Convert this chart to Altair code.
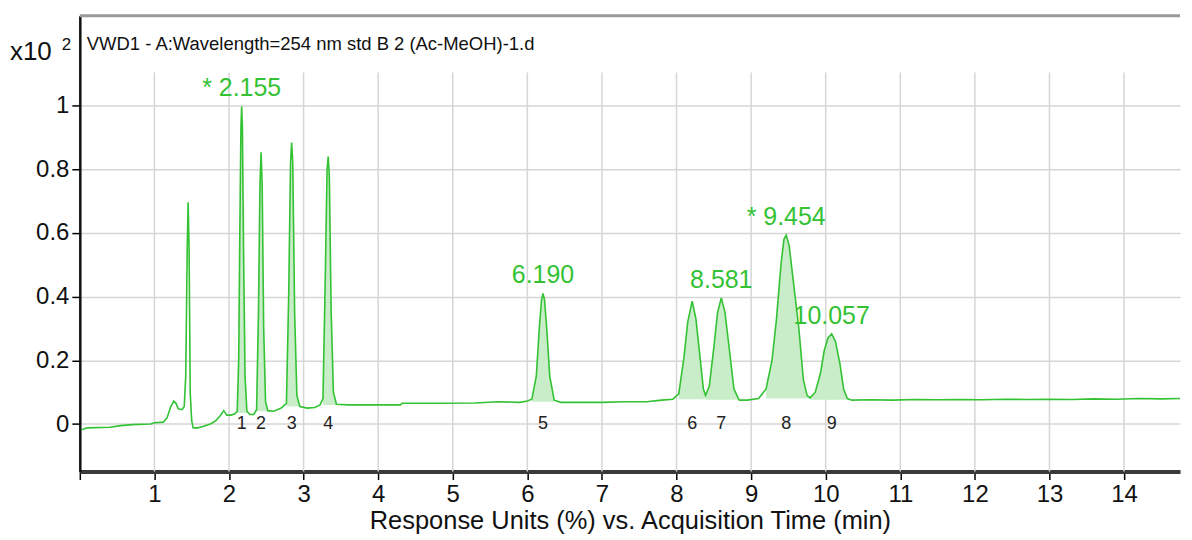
import altair as alt
import pandas as pd

# ---------------- data ----------------
time_min = [
    0.02, 0.10, 0.40, 0.55, 0.70, 0.95, 1.00, 1.12, 1.17, 1.22, 1.26, 1.29, 1.32, 1.37, 1.40,
    1.42, 1.44, 1.452, 1.465, 1.48, 1.50, 1.52, 1.58, 1.65, 1.75, 1.82, 1.88, 1.93, 1.97, 2.03, 2.08,
    2.11, 2.13, 2.145, 2.16, 2.17, 2.18, 2.195, 2.215, 2.24, 2.28, 2.33,
    2.37, 2.395, 2.415, 2.43, 2.445, 2.465, 2.49, 2.52, 2.60, 2.70,
    2.77, 2.80, 2.825, 2.84, 2.855, 2.88, 2.91, 2.95, 3.05, 3.15, 3.22,
    3.26, 3.29, 3.315, 3.33, 3.345, 3.37, 3.40, 3.44, 3.60, 4.00, 4.30, 4.32, 4.80, 5.30, 5.60, 5.90, 6.00,
    6.06, 6.12, 6.16, 6.19, 6.21, 6.23, 6.26, 6.30, 6.36, 6.45, 6.70, 7.00, 7.30, 7.60, 7.80, 7.95,
    8.03, 8.10, 8.15, 8.21, 8.26, 8.31, 8.36, 8.39,
    8.44, 8.50, 8.55, 8.60, 8.65, 8.71, 8.77, 8.84, 8.95, 9.10, 9.20,
    9.28, 9.34, 9.40, 9.44, 9.47, 9.51, 9.57, 9.64, 9.70, 9.75, 9.79,
    9.86, 9.93, 9.98, 10.03, 10.08, 10.13, 10.19, 10.24, 10.29, 10.35,
    10.60, 10.90, 11.20, 11.50, 11.80, 12.10, 12.40, 12.70, 13.00, 13.30, 13.60, 13.90, 14.20, 14.50, 14.75,
]
response = [
    -0.018, -0.012, -0.010, -0.005, -0.002, 0.000, 0.004, 0.006, 0.020, 0.055, 0.072, 0.065, 0.048, 0.045, 0.055,
    0.15, 0.55, 0.696, 0.55, 0.10, 0.01, -0.012, -0.012, -0.008, 0.000, 0.010, 0.025, 0.042, 0.028, 0.028, 0.032,
    0.040, 0.20, 0.60, 0.93, 0.997, 0.93, 0.55, 0.15, 0.040, 0.030, 0.030,
    0.045, 0.35, 0.75, 0.853, 0.75, 0.30, 0.07, 0.042, 0.040, 0.050,
    0.065, 0.40, 0.82, 0.884, 0.82, 0.35, 0.09, 0.055, 0.050, 0.052, 0.060,
    0.08, 0.45, 0.80, 0.84, 0.78, 0.35, 0.10, 0.062, 0.060, 0.060, 0.060, 0.065, 0.065, 0.066, 0.070, 0.068, 0.072,
    0.078, 0.15, 0.30, 0.39, 0.41, 0.39, 0.30, 0.15, 0.075, 0.068, 0.068, 0.068, 0.070, 0.070, 0.075, 0.078,
    0.095, 0.21, 0.32, 0.386, 0.33, 0.22, 0.11, 0.090,
    0.12, 0.24, 0.35, 0.396, 0.35, 0.23, 0.11, 0.075, 0.075, 0.080, 0.11,
    0.20, 0.33, 0.50, 0.58, 0.593, 0.56, 0.44, 0.30, 0.14, 0.090, 0.082,
    0.10, 0.16, 0.23, 0.27, 0.283, 0.26, 0.19, 0.11, 0.080, 0.075,
    0.076, 0.075, 0.077, 0.076, 0.077, 0.076, 0.078, 0.077, 0.078, 0.077, 0.079, 0.078, 0.080, 0.079, 0.080,
]

peak_number = ["1", "2", "3", "4", "5", "6", "7", "8", "9"]
peak_rt = [2.17, 2.43, 2.84, 3.33, 6.21, 8.21, 8.60, 9.47, 10.08]
peak_start = [2.11, 2.37, 2.77, 3.26, 6.06, 8.00, 8.39, 9.15, 9.79]
peak_end = [2.24, 2.52, 2.95, 3.44, 6.36, 8.39, 8.84, 9.79, 10.29]
peak_base = [0.035, 0.040, 0.055, 0.060, 0.070, 0.078, 0.076, 0.080, 0.076]

rt_text = ["* 2.155", "6.190", "8.581", "* 9.454", "10.057"]
rt_x = [2.17, 6.21, 8.60, 9.47, 10.08]
rt_y = [0.997, 0.41, 0.396, 0.593, 0.283]

x_ticks = list(range(0, 15))
y_ticks = [0, 0.2, 0.4, 0.6, 0.8, 1.0]

title_text = "VWD1 - A:Wavelength=254 nm std B 2 (Ac-MeOH)-1.d"
x_title = "Response Units (%) vs. Acquisition Time (min)"

# ---------------- styling ----------------
W, H = 1103, 457
FONT = "Liberation Sans"
GREEN = "#33c233"
FILL = "#c9edc9"

trace = pd.DataFrame({"t": time_min, "v": response})
rows = []
for num, s, e, b in zip(peak_number, peak_start, peak_end, peak_base):
    seg = trace[(trace.t >= s) & (trace.t <= e)]
    for t, v in zip(seg.t, seg.v):
        rows.append({"t": t, "v": v, "base": b, "peak": num})
areas = pd.DataFrame(rows)
peaks = pd.DataFrame({"t": peak_rt, "num": peak_number, "zero": [0] * len(peak_rt)})
rts = pd.DataFrame({"t": rt_x, "v": rt_y, "label": rt_text})
grid = pd.DataFrame({"t": x_ticks[1:]})
one = pd.DataFrame({"a": [0]})

xs = alt.Scale(domain=[0, 14.75], nice=False, zero=False)
ys = alt.Scale(domain=[-0.149, 1.282], nice=False, zero=False)

xaxis = alt.Axis(
    values=x_ticks, labelExpr="datum.value == 0 ? '' : datum.label", grid=False,
    tickSize=8, tickColor="#000", tickWidth=1.5, domainColor="#3a3a3a", domainWidth=4,
    labelFont=FONT, labelFontSize=24, labelColor="#111", labelPadding=3,
    title=x_title, titleFont=FONT, titleFontSize=25.5, titleFontWeight="normal",
    titleColor="#111", titlePadding=2,
)
yaxis = alt.Axis(
    values=y_ticks, labelExpr="datum.value == 0 ? '0' : datum.value == 1 ? '1' : format(datum.value, '.1f')",
    grid=True, gridColor="#d6d6d6", gridWidth=1.5,
    tickSize=8, tickColor="#000", tickWidth=1.5, domainColor="#111", domainWidth=2.5,
    labelFont=FONT, labelFontSize=24, labelColor="#111", labelPadding=3, title=None,
)

def X(field):
    return alt.X(field, type="quantitative", scale=xs, axis=xaxis)

def Y(field):
    return alt.Y(field, type="quantitative", scale=ys, axis=yaxis)

vgrid = alt.Chart(grid).mark_rule(color="#d6d6d6", strokeWidth=1.5).encode(
    x=X("t"), y=alt.value(H), y2=alt.value(57)
)

area = alt.Chart(areas).mark_area(color=FILL, opacity=1).encode(
    x=X("t"), y=Y("v"), y2="base:Q", detail="peak:N"
)

line = alt.Chart(trace).mark_line(color=GREEN, strokeWidth=1.6).encode(
    x=X("t"), y=Y("v")
)

nums = alt.Chart(peaks).mark_text(
    font=FONT, fontSize=18, color="#222", baseline="middle", align="center"
).encode(x=X("t"), y=Y("zero"), text="num:N")

rtl = alt.Chart(rts).mark_text(
    font=FONT, fontSize=25, color=GREEN, baseline="alphabetic", align="center", dy=-10
).encode(x=X("t"), y=Y("v"), text="label:N")

title = alt.Chart(one).mark_text(
    font=FONT, fontSize=18.5, color="#111", align="left", baseline="middle"
).encode(x=alt.value(7), y=alt.value(28), text=alt.value(title_text))

x10 = alt.Chart(one).mark_text(
    font=FONT, fontSize=26, color="#111", align="left", baseline="middle"
).encode(x=alt.value(-70), y=alt.value(36), text=alt.value("x10"))

sup = alt.Chart(one).mark_text(
    font=FONT, fontSize=17, color="#111", align="left", baseline="middle"
).encode(x=alt.value(-18), y=alt.value(29), text=alt.value("2"))

topline = alt.Chart(one).mark_rule(color="#9a9a9a", strokeWidth=3).encode(
    x=alt.value(0), x2=alt.value(W), y=alt.value(0)
)

chart = alt.layer(
    vgrid, area, line, nums, rtl, title, x10, sup, topline
).properties(
    width=W, height=H, padding={"left": 2, "top": 5, "right": 0, "bottom": 0}
).configure_view(stroke=None)

chart.save("out.html", embed_options={"renderer": "svg", "actions": False})
